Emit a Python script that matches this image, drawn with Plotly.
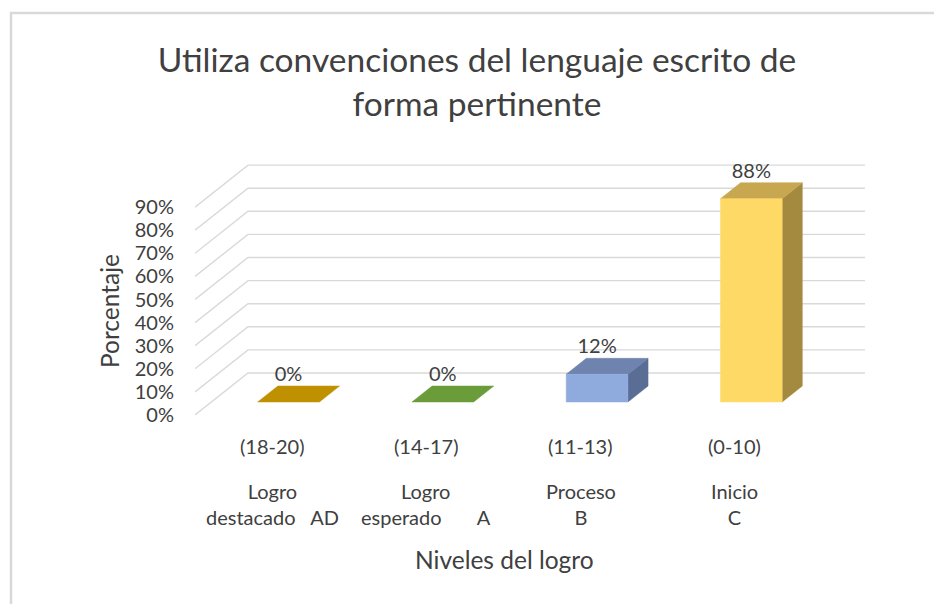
import plotly.graph_objects as go

# ---------------- data ----------------
range_labels = ["(18-20)", "(14-17)", "(11-13)", "(0-10)"]
level_labels = ["Logro<br>destacado\u00a0\u00a0\u00a0AD",
                "Logro<br>esperado\u00a0\u00a0\u00a0\u00a0\u00a0\u00a0\u00a0A",
                "Proceso<br>B",
                "Inicio<br>C"]
values = [0, 0, 12, 88]
y_ticks = [0, 10, 20, 30, 40, 50, 60, 70, 80, 90]
y_tick_text = ["0%", "10%", "20%", "30%", "40%", "50%", "60%", "70%", "80%", "90%"]
title_text = "Utiliza convenciones del lenguaje escrito de<br>forma pertinente"
y_title = "Porcentaje"
x_title = "Niveles del logro"

# face colours per category: (front, top, side)
front_colors = ["#C89A10", "#74A84A", "#8FAADC", "#FFD966"]
top_colors = ["#BF9000", "#6A9D3A", "#6E84AE", "#C7A74F"]
side_colors = ["#9E7800", "#557F2E", "#5A6D94", "#A38A3F"]

# ---------------- geometry ----------------
W, H = 934, 604
L, R, T, B = 195, 54, 140, 164
plot_w = W - L - R
plot_h = H - T - B
px_per_cat = 154.25
px_per_pct = 2.31
x0 = -0.5
x1 = x0 + plot_w / px_per_cat
y_zero_px = 415
y_top = (y_zero_px - T) / px_per_pct
y_bot = -((H - B) - y_zero_px) / px_per_pct

DX = 53 / px_per_cat     # full depth offset (category units)
DY = 42 / px_per_pct     # full depth offset (percent units)
d_front, d_back = 0.31, 0.69
half_w = 0.2
n = len(values)

FONT = "Lato"
TXT = "#404040"
GRID = "#D9D9D9"


def paper_y(px):
    return ((H - B) - px) / plot_h


def paper_x(px):
    return (px - L) / plot_w


fig = go.Figure()

# walls: side-wall diagonals + back-wall horizontal gridlines
gx, gy = [], []
for v in y_ticks:
    gx += [x0, x0 + DX, n - 0.5 + DX, None]
    gy += [v, v + DY, v + DY, None]
fig.add_trace(go.Scatter(x=gx, y=gy, mode="lines",
                         line=dict(color=GRID, width=1.4),
                         hoverinfo="skip", showlegend=False))

# 3D bars
for i, v in enumerate(values):
    xl = i - half_w + d_front * DX
    xr = i + half_w + d_front * DX
    yb = d_front * DY
    yt = v + d_front * DY
    ox = (d_back - d_front) * DX
    oy = (d_back - d_front) * DY
    # side face
    if v > 0:
        fig.add_trace(go.Scatter(
            x=[xr, xr + ox, xr + ox, xr, xr], y=[yb, yb + oy, yt + oy, yt, yb],
            fill="toself", fillcolor=side_colors[i], mode="lines",
            line=dict(color=side_colors[i], width=0.5),
            hoverinfo="skip", showlegend=False))
    # top face
    fig.add_trace(go.Scatter(
        x=[xl, xr, xr + ox, xl + ox, xl], y=[yt, yt, yt + oy, yt + oy, yt],
        fill="toself", fillcolor=top_colors[i], mode="lines",
        line=dict(color=top_colors[i], width=0.5),
        hoverinfo="skip", showlegend=False))
    # front face
    if v > 0:
        fig.add_trace(go.Scatter(
            x=[xl, xr, xr, xl, xl], y=[yb, yb, yt, yt, yb],
            fill="toself", fillcolor=front_colors[i], mode="lines",
            line=dict(color=front_colors[i], width=0.5),
            hoverinfo="skip", showlegend=False))

# data labels
fig.add_trace(go.Scatter(
    x=[i + d_front * DX for i in range(n)],
    y=[v + d_back * DY for v in values],
    mode="text", text=[f"{v}%" for v in values],
    textposition="top center",
    textfont=dict(family=FONT, size=20, color=TXT),
    hoverinfo="skip", showlegend=False, cliponaxis=False))

# category labels
for i in range(n):
    fig.add_annotation(x=i, xref="x", y=paper_y(446), yref="paper",
                       text=range_labels[i], showarrow=False,
                       xanchor="center", yanchor="middle",
                       font=dict(family=FONT, size=20, color=TXT))
    fig.add_annotation(x=i, xref="x", y=paper_y(504), yref="paper",
                       text=level_labels[i], showarrow=False,
                       xanchor="center", yanchor="middle", align="center",
                       font=dict(family=FONT, size=20, color=TXT))

# axis titles
fig.add_annotation(x=paper_x(504), xref="paper", y=paper_y(559), yref="paper",
                   text=x_title, showarrow=False, xanchor="center", yanchor="middle",
                   font=dict(family=FONT, size=24.5, color=TXT))
fig.add_annotation(x=paper_x(109), xref="paper", y=paper_y(311), yref="paper",
                   text=y_title, showarrow=False, textangle=-90,
                   xanchor="center", yanchor="middle",
                   font=dict(family=FONT, size=24.5, color=TXT))

# outer frame
fig.add_shape(type="rect", xref="paper", yref="paper",
              x0=paper_x(11), x1=paper_x(W + 20), y0=paper_y(H + 20), y1=paper_y(13),
              line=dict(color="#D9D9D9", width=2.5), fillcolor="rgba(0,0,0,0)",
              layer="below")

fig.update_layout(
    width=W, height=H,
    margin=dict(l=L, r=R, t=T, b=B),
    paper_bgcolor="white", plot_bgcolor="white",
    title=dict(text=title_text, x=477 / W, xanchor="center", xref="container",
               y=1 - 72 / H, yanchor="top", yref="container",
               font=dict(family=FONT, size=33.5, color=TXT)),
    xaxis=dict(range=[x0, x1], visible=False, fixedrange=True),
    yaxis=dict(range=[y_bot, y_top], tickmode="array", tickvals=y_ticks,
               ticktext=y_tick_text,
               showgrid=False, zeroline=False, showline=False,
               ticks="", ticklabelstandoff=20,
               tickfont=dict(family=FONT, size=20, color=TXT),
               fixedrange=True),
    showlegend=False,
)

fig.write_html("out.html", config={"displayModeBar": False},
               post_script="document.body.style.margin='0';")
